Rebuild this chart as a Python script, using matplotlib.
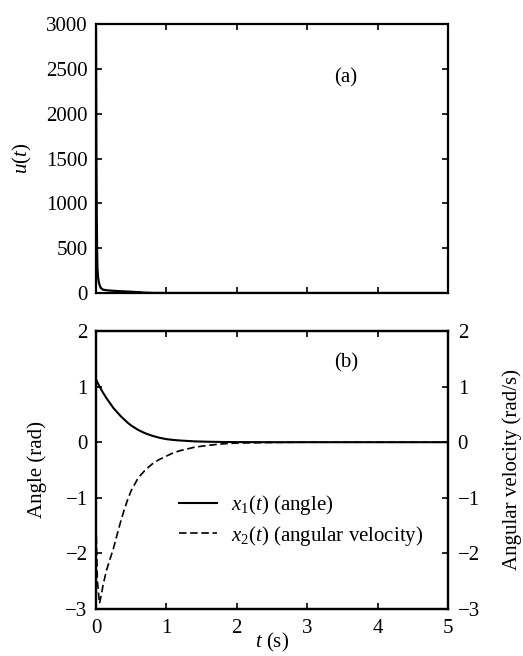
import matplotlib
matplotlib.use('Agg')
import matplotlib.pyplot as plt

plt.rcParams['font.family'] = ['Liberation Serif', 'DejaVu Serif']
plt.rcParams['mathtext.fontset'] = 'custom'
plt.rcParams['mathtext.it'] = 'Liberation Serif:italic'
plt.rcParams['mathtext.rm'] = 'Liberation Serif'
plt.rcParams['font.size'] = 15

# control input u(t)
t_u = [0.0, 0.005, 0.01, 0.015, 0.02, 0.03, 0.04, 0.05, 0.07, 0.1, 0.15, 0.2,
       0.3, 0.4, 0.5, 0.6, 0.7, 0.8, 1.0, 5.0]
u = [2950, 1600, 900, 500, 280, 170, 120, 90, 55, 37, 31, 27,
     22, 18, 14, 10, 4, 1, 0, 0]

# x1(t): angle
t_x1 = [0.0, 0.05, 0.1, 0.15, 0.2, 0.25, 0.3, 0.35, 0.4, 0.45, 0.5, 0.6, 0.7,
        0.8, 0.9, 1.0, 1.1, 1.2, 1.4, 1.6, 1.8, 2.0, 2.5, 3.0, 4.0, 5.0]
x1 = [1.13, 1.0, 0.89, 0.79, 0.70, 0.61, 0.54, 0.47, 0.41, 0.35, 0.30, 0.22, 0.16,
      0.115, 0.08, 0.055, 0.04, 0.03, 0.015, 0.008, 0.004, 0.002, 0.0, 0.0, 0.0, 0.0]

# x2(t): angular velocity
t_x2 = [0.0, 0.02, 0.05, 0.08, 0.1, 0.15, 0.2, 0.25, 0.3, 0.35, 0.4, 0.45, 0.5,
        0.6, 0.7, 0.8, 0.9, 1.0, 1.1, 1.2, 1.4, 1.6, 1.8, 2.0, 2.5, 3.0, 4.0, 5.0]
x2 = [-1.5, -2.5, -2.9, -2.72, -2.57, -2.3, -2.1, -1.9, -1.66, -1.43, -1.22, -1.03, -0.87,
      -0.64, -0.5, -0.39, -0.31, -0.25, -0.19, -0.15, -0.09, -0.055, -0.03, -0.015,
      -0.005, 0.0, 0.0, 0.0]

ytick_b = [-3, -2, -1, 0, 1, 2]
ylab_b = ['\u22123', '\u22122', '\u22121', '0', '1', '2']

fig = plt.figure(figsize=(5.23, 6.56), dpi=100)
ax1 = fig.add_axes([96 / 523, 1 - 293 / 656, 352 / 523, 269 / 656])
ax2 = fig.add_axes([96 / 523, 1 - 609 / 656, 352 / 523, 278 / 656])

for ax in (ax1, ax2):
    for s in ax.spines.values():
        s.set_linewidth(1.6)
    ax.tick_params(direction='in', length=4, width=1.2, top=True, right=True, pad=6)

ax1.plot(t_u, u, color='black', lw=1.6)
ax1.set_xlim(0, 5)
ax1.set_ylim(0, 3000)
ax1.set_yticks([0, 500, 1000, 1500, 2000, 2500, 3000])
ax1.set_xticks([0, 1, 2, 3, 4, 5])
ax1.set_xticklabels([])
ax1.set_ylabel('$u(t)$', labelpad=9)
ax1.text(0.71, 0.80, '(a)', transform=ax1.transAxes, ha='center', va='center')

ax2.plot(t_x1, x1, color='black', lw=1.5, label=r'$x_1(t)$ (angle)')
ax2.plot(t_x2, x2, color='black', lw=1.2, ls=(0, (4.5, 2.2)),
         label=r'$x_2(t)$ (angular velocity)')
ax2.set_xlim(0, 5)
ax2.set_ylim(-3, 2)
ax2.set_yticks(ytick_b)
ax2.set_yticklabels(ylab_b)
ax2.set_xticks([0, 1, 2, 3, 4, 5])
ax2.tick_params(right=False, axis='x', pad=7)
ax2.set_xlabel('$t$ (s)', labelpad=-5)
ax2.set_ylabel('Angle (rad)', labelpad=13)
ax2.text(0.71, 0.885, '(b)', transform=ax2.transAxes, ha='center', va='center')
ax2.legend(loc='center left', bbox_to_anchor=(0.236, 0.318), frameon=False,
           borderaxespad=0, borderpad=0, handlelength=1.8, handletextpad=0.7,
           labelspacing=0.3)

ax3 = ax2.twinx()
ax3.set_ylim(-3, 2)
ax3.set_yticks(ytick_b)
ax3.set_yticklabels(ylab_b)
ax3.tick_params(direction='in', length=4, width=1.2, pad=7)
ax3.set_ylabel('Angular velocity (rad/s)', labelpad=16)
for s in ax3.spines.values():
    s.set_linewidth(1.6)

fig.savefig('out.png', dpi=100)
